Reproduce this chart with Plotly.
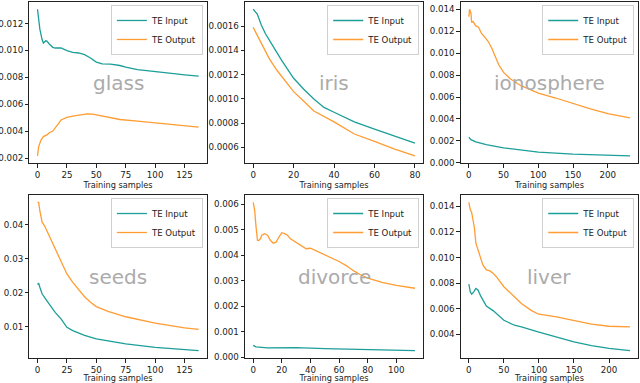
import plotly.graph_objects as go
from plotly.subplots import make_subplots

TEAL = "#1c9e99"
ORANGE = "#ff9c33"

datasets = ["glass", "iris", "ionosphere", "seeds", "divorce", "liver"]

# glass
glass_in_x = [0, 2, 4, 5, 7, 8, 10, 13, 15, 20, 25, 30, 35, 40, 45, 50, 55, 62, 70, 75, 85, 100, 112, 125, 137]
glass_in_y = [0.01306, 0.01158, 0.01077, 0.01055, 0.01072, 0.0107, 0.01048, 0.01023, 0.01018, 0.01018,
              0.00999, 0.00986, 0.00981, 0.00969, 0.00944, 0.00913, 0.009, 0.00898, 0.00888, 0.00876,
              0.00858, 0.00846, 0.00831, 0.00819, 0.00809]
glass_out_x = [0, 1, 3, 5, 8, 10, 13, 15, 18, 20, 25, 30, 37, 42, 47, 55, 62, 70, 85, 100, 112, 125, 137]
glass_out_y = [0.00217, 0.00286, 0.00335, 0.0036, 0.00372, 0.00389, 0.00401, 0.00421, 0.00458, 0.00483,
               0.00502, 0.00512, 0.00519, 0.00529, 0.00527, 0.00512, 0.00497, 0.00487, 0.00475, 0.00463,
               0.00451, 0.00441, 0.00431]

# iris
iris_in_x = [0, 2, 4, 6, 10, 14, 20, 25, 30, 35, 40, 44, 50, 60, 70, 80]
iris_in_y = [0.00174, 0.00170, 0.00161, 0.00154, 0.00143, 0.00132, 0.00117, 0.00108, 0.00100, 0.00093,
             0.00089, 0.00086, 0.00081, 0.00075, 0.00069, 0.000635]
iris_out_x = [0, 4, 8, 12, 20, 25, 30, 40, 50, 60, 70, 80]
iris_out_y = [0.00159, 0.00146, 0.00133, 0.00123, 0.00106, 0.00098, 0.00090, 0.00081, 0.00071, 0.00065,
              0.000586, 0.00053]

# ionosphere
iono_in_x = [0, 3, 10, 25, 50, 75, 100, 150, 200, 232]
iono_in_y = [0.00233, 0.00212, 0.00191, 0.00167, 0.00136, 0.00115, 0.00097, 0.00079, 0.0007, 0.00064]
iono_out_x = [0, 1, 3, 4, 6, 8, 10, 14, 18, 22, 28, 33, 38, 43, 50, 60, 75, 100, 125, 150, 175, 200, 232]
iono_out_y = [0.01333, 0.0140, 0.01364, 0.01279, 0.01288, 0.01267, 0.01248, 0.01236, 0.01182, 0.01152,
              0.01106, 0.01045, 0.0097, 0.00894, 0.00824, 0.00764, 0.00703, 0.00636, 0.00591, 0.00539,
              0.00491, 0.00448, 0.00409]

# seeds
seeds_in_x = [0, 1, 2, 4, 7, 10, 15, 20, 25, 30, 40, 50, 75, 100, 125, 137]
seeds_in_y = [0.0224, 0.0228, 0.0216, 0.0196, 0.0181, 0.0167, 0.0142, 0.0123, 0.0098, 0.0088, 0.0074,
              0.0064, 0.0049, 0.0039, 0.0032, 0.0029]
seeds_out_x = [0, 1, 2, 4, 6, 8, 10, 14, 18, 22, 25, 30, 35, 40, 45, 50, 60, 75, 100, 125, 137]
seeds_out_y = [0.0466, 0.0466, 0.0441, 0.0407, 0.0397, 0.0382, 0.0363, 0.0333, 0.0304, 0.0275, 0.0255,
               0.0230, 0.0208, 0.0188, 0.0172, 0.0159, 0.0145, 0.0129, 0.0110, 0.0096, 0.0092]

# divorce
div_in_x = [0, 2, 10, 20, 30, 50, 80, 113]
div_in_y = [0.00046, 0.0004, 0.00036, 0.00037, 0.00037, 0.00033, 0.00029, 0.00025]
div_out_x = [0, 1, 2, 3, 4, 5, 6, 8, 10, 12, 14, 16, 18, 20, 22, 24, 26, 30, 34, 37, 40, 45, 50, 55, 60,
             65, 70, 75, 80, 90, 100, 113]
div_out_y = [0.00607, 0.00577, 0.0051, 0.00458, 0.00458, 0.00464, 0.00478, 0.00484, 0.00478, 0.00458,
             0.00447, 0.00451, 0.00471, 0.00488, 0.00484, 0.00478, 0.00464, 0.00451, 0.00438, 0.00425,
             0.00427, 0.00414, 0.00402, 0.00388, 0.00375, 0.00359, 0.00339, 0.00323, 0.0031, 0.00293,
             0.00281, 0.0027]

# liver
liver_in_x = [0, 2, 4, 7, 10, 13, 17, 22, 25, 35, 50, 65, 75, 100, 125, 150, 175, 200, 230]
liver_in_y = [0.00793, 0.00732, 0.00714, 0.00732, 0.00759, 0.00746, 0.00698, 0.00641, 0.0062, 0.00583,
              0.0051, 0.00471, 0.00458, 0.00418, 0.00379, 0.0034, 0.00311, 0.0029, 0.00272]
liver_out_x = [0, 2, 4, 6, 8, 10, 15, 20, 25, 30, 35, 40, 50, 60, 75, 90, 100, 125, 150, 175, 200, 230]
liver_out_y = [0.01431, 0.01374, 0.01353, 0.01282, 0.0123, 0.01112, 0.0102, 0.00942, 0.00903, 0.00895,
               0.00876, 0.00845, 0.00772, 0.00719, 0.00641, 0.00583, 0.00557, 0.00536, 0.00505, 0.00479,
               0.00463, 0.00458]

series = [
    (glass_in_x, glass_in_y, glass_out_x, glass_out_y),
    (iris_in_x, iris_in_y, iris_out_x, iris_out_y),
    (iono_in_x, iono_in_y, iono_out_x, iono_out_y),
    (seeds_in_x, seeds_in_y, seeds_out_x, seeds_out_y),
    (div_in_x, div_in_y, div_out_x, div_out_y),
    (liver_in_x, liver_in_y, liver_out_x, liver_out_y),
]

x_ticks = [[0, 25, 50, 75, 100, 125], [0, 20, 40, 60, 80], [0, 50, 100, 150, 200],
           [0, 25, 50, 75, 100, 125], [0, 20, 40, 60, 80, 100], [0, 50, 100, 150, 200]]
y_ticks = [[0.002, 0.004, 0.006, 0.008, 0.010, 0.012],
           [0.0006, 0.0008, 0.0010, 0.0012, 0.0014, 0.0016],
           [0.000, 0.002, 0.004, 0.006, 0.008, 0.010, 0.012, 0.014],
           [0.01, 0.02, 0.03, 0.04],
           [0.000, 0.001, 0.002, 0.003, 0.004, 0.005, 0.006],
           [0.004, 0.006, 0.008, 0.010, 0.012, 0.014]]
y_fmt = [".3f", ".4f", ".3f", ".2f", ".3f", ".3f"]

FONT = "DejaVu Sans"
x_dom = [(0.046, 0.323), (0.383, 0.661), (0.720, 0.997)]
y_dom = [(0.574, 0.995), (0.065, 0.491)]

fig = make_subplots(rows=2, cols=3)

for i, (xi, yi, xo, yo) in enumerate(series):
    r, c = i // 3 + 1, i % 3 + 1
    leg = "legend" if i == 0 else f"legend{i + 1}"
    fig.add_trace(go.Scatter(x=xi, y=yi, mode="lines", name="TE Input",
                             line=dict(color=TEAL, width=1.3), legend=leg), row=r, col=c)
    fig.add_trace(go.Scatter(x=xo, y=yo, mode="lines", name="TE Output",
                             line=dict(color=ORANGE, width=1.3), legend=leg), row=r, col=c)

    xmax = max(max(xi), max(xo))
    ymin = min(min(yi), min(yo))
    ymax = max(max(yi), max(yo))
    pad_y = (ymax - ymin) * 0.05
    xd, yd = x_dom[c - 1], y_dom[r - 1]

    fig.update_xaxes(row=r, col=c, domain=list(xd), range=[-0.05 * xmax, 1.05 * xmax],
                     tickvals=x_ticks[i], title=dict(text="Training samples", standoff=3,
                                                     font=dict(size=8.2, color="#222")))
    fig.update_yaxes(row=r, col=c, domain=list(yd), range=[ymin - pad_y, ymax + pad_y],
                     tickvals=y_ticks[i], tickformat=y_fmt[i])

    # dataset name as a faint watermark in the middle of the panel
    fig.add_annotation(x=(xd[0] + xd[1]) / 2, y=(yd[0] + yd[1]) / 2, xref="paper", yref="paper",
                       xanchor="center", yanchor="middle", text=datasets[i], showarrow=False,
                       font=dict(size=20, color="#ababab", family=FONT))

    fig.layout[leg] = dict(x=xd[1] - 0.006, y=yd[1] - 0.008, xanchor="right", yanchor="top",
                           bgcolor="rgba(255,255,255,0.85)", bordercolor="#d0d0d0", borderwidth=1,
                           font=dict(size=8.6, family=FONT, color="#222"),
                           itemwidth=30, tracegroupgap=0)

axis_style = dict(showline=True, mirror=True, linecolor="#222", linewidth=1, showgrid=False,
                  zeroline=False, ticks="outside", ticklen=3.5, tickcolor="#222", automargin=False,
                  tickfont=dict(size=8.7, family=FONT, color="#222"))
fig.update_xaxes(**axis_style)
fig.update_yaxes(**axis_style)

fig.update_layout(width=640, height=383, margin=dict(l=0, r=0, t=0, b=0),
                  plot_bgcolor="white", paper_bgcolor="white",
                  font=dict(family=FONT, size=9, color="#222"))

# the page's default body margin would shift the figure by 8px
fig.write_html("out.html", config={"displayModeBar": False},
               post_script="document.body.style.margin='0';")
